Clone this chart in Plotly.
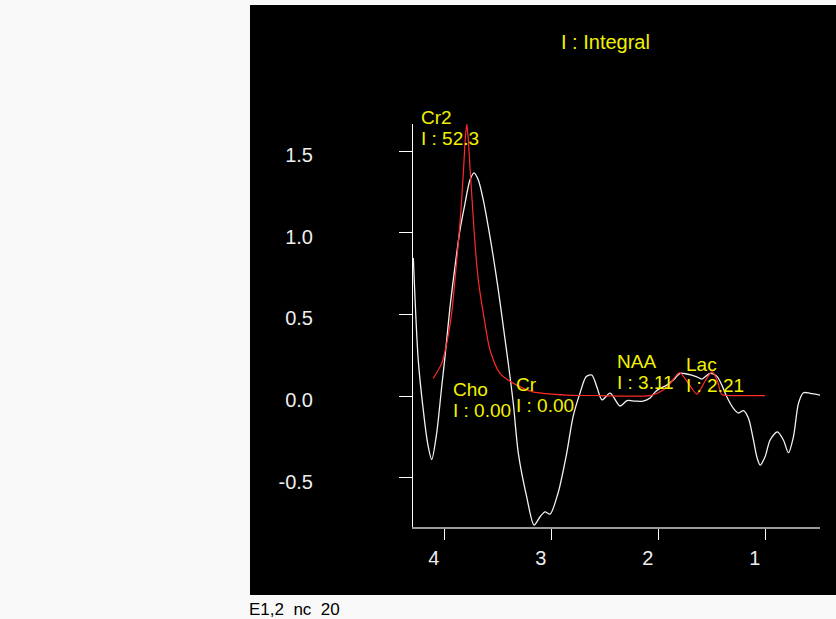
import plotly.graph_objects as go

# ---------------- data ----------------
spec_ppm = [4.293, 4.247, 4.200, 4.159, 4.121, 4.075, 4.028, 3.997, 3.950, 3.904,
            3.857, 3.810, 3.764, 3.726, 3.686, 3.639, 3.593, 3.546, 3.499, 3.452,
            3.406, 3.359, 3.312, 3.234, 3.165, 3.109, 3.063, 3.016, 2.941, 2.860,
            2.801, 2.736, 2.679, 2.626, 2.579, 2.530, 2.455, 2.362, 2.296, 2.221,
            2.147, 2.081, 2.035, 1.988, 1.925, 1.864, 1.801, 1.738, 1.645, 1.598,
            1.521, 1.458, 1.411, 1.364, 1.303, 1.256, 1.209, 1.163, 1.116, 1.081,
            1.053, 1.007, 0.960, 0.892, 0.836, 0.789, 0.742, 0.695, 0.649, 0.586,
            0.493]
spec_int = [0.845, 0.220, -0.086, -0.290, -0.388, -0.228, 0.057, 0.241, 0.547, 0.792,
            1.017, 1.180, 1.323, 1.367, 1.323, 1.200, 1.037, 0.853, 0.649, 0.424,
            0.200, -0.045, -0.351, -0.617, -0.790, -0.739, -0.709, -0.723, -0.594, -0.349,
            -0.127, 0.018, 0.118, 0.129, 0.057, -0.024, 0.018, -0.061, -0.028, -0.031,
            -0.031, -0.012, 0.024, 0.047, 0.067, 0.098, 0.139, 0.135, 0.118, 0.104,
            0.139, 0.122, 0.067, -0.006, -0.075, -0.104, -0.089, -0.135, -0.269, -0.380,
            -0.423, -0.372, -0.269, -0.219, -0.269, -0.347, -0.249, -0.045, 0.020, 0.017,
            0.006]

fit_ppm = [4.107, 4.028, 3.981, 3.935, 3.904, 3.873, 3.848, 3.826, 3.808, 3.794,
           3.779, 3.764, 3.738, 3.717, 3.686, 3.639, 3.577, 3.483, 3.327, 3.175,
           2.860, 2.549, 2.081, 1.957, 1.879, 1.807, 1.723, 1.645, 1.567, 1.502,
           1.455, 1.411, 1.334, 1.007]
fit_int = [0.108, 0.200, 0.323, 0.506, 0.710, 0.935, 1.139, 1.364, 1.568, 1.666,
           1.568, 1.404, 1.139, 0.935, 0.710, 0.506, 0.282, 0.139, 0.067, 0.026,
           0.006, 0.003, 0.003, 0.037, 0.089, 0.143, 0.078, 0.012, 0.092, 0.150,
           0.098, 0.009, 0.003, 0.003]

metabolites = ["Cr2", "Cho", "Cr", "NAA", "Lac"]
integrals = ["52.3", "0.00", "0.00", "3.11", "2.21"]

x_ticks = [4, 3, 2, 1]
x_tick_text = ["4", "3", "2", "1"]
y_ticks = [-0.5, 0.0, 0.5, 1.0, 1.5]
y_tick_text = ["-0.5", "0.0", "0.5", "1.0", "1.5"]

footer_text = "E1,2\u00a0\u00a0nc\u00a0\u00a020"
legend_text = "I : Integral"

# ---------------- layout geometry ----------------
W, H = 836, 619
ML, MR, MT, MB = 413, 16, 124, 92
PW, PH = W - ML - MR, H - MT - MB
X_RANGE = [4.296, 0.494]
Y_RANGE = [-0.802, 1.666]


def px_x(p):
    return (p - ML) / PW


def px_y(p):
    return (H - MB - p) / PH


def data_to_paper_y(v):
    return (v - Y_RANGE[0]) / (Y_RANGE[1] - Y_RANGE[0])


# label anchor positions (ppm, intensity of first line) for each metabolite label
label_pos = [(4.238, 1.708), (3.939, 0.043), (3.348, 0.073), (2.407, 0.214), (1.768, 0.196)]
line_gap = 0.133  # vertical distance between the two label lines, in intensity units

fig = go.Figure()
fig.add_trace(go.Scatter(x=spec_ppm, y=spec_int, mode="lines",
                         line=dict(color="#f2f2f2", width=1.3, shape="spline", smoothing=0.8),
                         hoverinfo="skip", showlegend=False))
fig.add_trace(go.Scatter(x=fit_ppm, y=fit_int, mode="lines",
                         line=dict(color="#ff2a2a", width=1.2, shape="spline", smoothing=0.7),
                         hoverinfo="skip", showlegend=False))

yellow = "#f2f200"
font_lab = dict(family="Liberation Sans, Arial", size=19, color=yellow)
annotations = []
for name, integ, (xp, yp) in zip(metabolites, integrals, label_pos):
    annotations.append(dict(x=xp, y=data_to_paper_y(yp), xref="x", yref="paper", text=name,
                            showarrow=False, xanchor="left", yanchor="middle", font=font_lab))
    annotations.append(dict(x=xp, y=data_to_paper_y(yp - line_gap), xref="x", yref="paper",
                            text=f"I : {integ}", showarrow=False, xanchor="left",
                            yanchor="middle", font=font_lab))
annotations.append(dict(x=px_x(605), y=px_y(42), xref="paper", yref="paper", text=legend_text,
                        showarrow=False, xanchor="center", yanchor="middle",
                        font=dict(family="Liberation Sans, Arial", size=20, color=yellow)))
annotations.append(dict(x=px_x(247), y=px_y(609), xref="paper", yref="paper", text=footer_text,
                        showarrow=False, xanchor="left", yanchor="middle",
                        font=dict(family="Liberation Sans, Arial", size=17, color="#000000")))

shapes = [dict(type="rect", xref="paper", yref="paper", layer="below",
               x0=px_x(250), x1=px_x(836), y0=px_y(595), y1=px_y(5),
               fillcolor="#000000", line=dict(width=0))]

tick_font = dict(family="Liberation Sans, Arial", size=20, color="#eeeeee")
fig.update_layout(
    width=W, height=H, autosize=False,
    margin=dict(l=ML, r=MR, t=MT, b=MB, pad=0),
    paper_bgcolor="#f9f9f9", plot_bgcolor="#000000",
    shapes=shapes, annotations=annotations, showlegend=False,
    xaxis=dict(range=X_RANGE, tickvals=x_ticks, ticktext=x_tick_text,
               showgrid=False, zeroline=False, showline=True, linecolor="#9a9a9a", linewidth=2,
               ticks="outside", ticklen=11, tickcolor="#ffffff", tickwidth=1,
               tickfont=tick_font, ticklabelshift=11, ticklabelstandoff=1),
    yaxis=dict(range=Y_RANGE, tickvals=y_ticks, ticktext=y_tick_text,
               showgrid=False, zeroline=False, showline=True, linecolor="#ffffff", linewidth=1,
               ticks="outside", ticklen=13, tickcolor="#ffffff", tickwidth=1,
               tickfont=tick_font, ticklabelshift=4, ticklabelstandoff=82),
)

fig.write_html("out.html", config={"displayModeBar": False},
               post_script="document.body.style.margin='0';document.body.style.overflow='hidden';")
